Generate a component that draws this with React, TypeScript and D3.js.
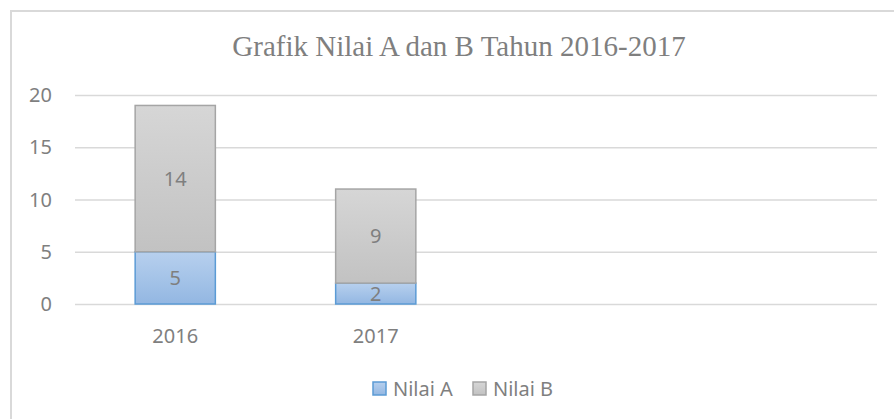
import React, { useEffect, useRef } from 'react';
import * as d3 from 'd3';

const title = 'Grafik Nilai A dan B Tahun 2016-2017';
const categories = ['2016', '2017', '', ''];
const seriesNames = ['Nilai A', 'Nilai B'];
const nilaiA = [5, 2];
const nilaiB = [14, 9];
const yTicks = [0, 5, 10, 15, 20];

const W = 894;
const H = 419;
const FONT = '"Noto Sans", "Open Sans", sans-serif';
const TEXT = '#7f7f7f';

const App: React.FC = () => {
  const svgRef = useRef<SVGSVGElement>(null);

  useEffect(() => {
    if (!svgRef.current) return;
    const svg = d3.select(svgRef.current);
    svg.selectAll('*').remove();

    const plot = { left: 75, right: 877, top: 95, bottom: 304 };

    // chart frame (runs off the right/bottom edge like the screenshot)
    svg.append('rect')
      .attr('x', 11).attr('y', 11)
      .attr('width', W + 20).attr('height', H + 20)
      .attr('fill', '#fff')
      .attr('stroke', '#d9d9d9')
      .attr('stroke-width', 2);

    const defs = svg.append('defs');
    const grads = [
      { id: 'gA', top: '#b7d0ee', bottom: '#93b7e2' },
      { id: 'gB', top: '#d6d6d6', bottom: '#c2c2c2' },
    ];
    grads.forEach(gd => {
      const lg = defs.append('linearGradient')
        .attr('id', gd.id).attr('x1', 0).attr('y1', 0).attr('x2', 0).attr('y2', 1);
      lg.append('stop').attr('offset', '0%').attr('stop-color', gd.top);
      lg.append('stop').attr('offset', '100%').attr('stop-color', gd.bottom);
    });

    const x = d3.scaleBand<number>()
      .domain(d3.range(categories.length))
      .range([plot.left, plot.right])
      .paddingInner(0.6)
      .paddingOuter(0.3);

    const y = d3.scaleLinear().domain([0, 20]).range([plot.bottom, plot.top]);

    // title
    svg.append('text')
      .attr('x', 459).attr('y', 56)
      .attr('text-anchor', 'middle')
      .attr('font-family', '"Liberation Serif", "Times New Roman", serif')
      .attr('font-size', 29)
      .attr('fill', TEXT)
      .text(title);

    // grid
    svg.append('g')
      .attr('transform', `translate(${plot.left},0)`)
      .call(d3.axisLeft(y).tickValues(yTicks).tickSize(-(plot.right - plot.left)).tickFormat(() => ''))
      .call(g => g.select('.domain').remove())
      .call(g => g.selectAll('.tick line').attr('stroke', '#d9d9d9').attr('stroke-width', 1.5));

    // y labels
    svg.append('g')
      .selectAll('text')
      .data(yTicks)
      .join('text')
      .attr('x', 52)
      .attr('y', d => y(d))
      .attr('dy', '0.35em')
      .attr('text-anchor', 'end')
      .attr('font-family', FONT)
      .attr('font-size', 20)
      .attr('fill', TEXT)
      .text(d => d);

    // stacked bars
    const rows = nilaiA.map((a, i) => ({ idx: i, 'Nilai A': a, 'Nilai B': nilaiB[i] }));
    const stacked = d3.stack<any>().keys(seriesNames)(rows);
    const fills = ['url(#gA)', 'url(#gB)'];
    const strokes = ['#5b9bd5', '#a5a5a5'];

    stacked.forEach((layer, si) => {
      const g = svg.append('g');
      g.selectAll('rect')
        .data(layer)
        .join('rect')
        .attr('x', d => x(d.data.idx)!)
        .attr('y', d => y(d[1]))
        .attr('width', x.bandwidth())
        .attr('height', d => y(d[0]) - y(d[1]))
        .attr('fill', fills[si])
        .attr('stroke', strokes[si])
        .attr('stroke-width', 1.5);
      g.selectAll('text')
        .data(layer)
        .join('text')
        .attr('x', d => x(d.data.idx)! + x.bandwidth() / 2)
        .attr('y', d => (y(d[0]) + y(d[1])) / 2)
        .attr('dy', '0.35em')
        .attr('text-anchor', 'middle')
        .attr('font-family', FONT)
        .attr('font-size', 20)
        .attr('fill', TEXT)
        .text(d => d[1] - d[0]);
    });

    // x labels
    svg.append('g')
      .selectAll('text')
      .data(categories)
      .join('text')
      .attr('x', (_, i) => x(i)! + x.bandwidth() / 2)
      .attr('y', 336)
      .attr('dy', '0.35em')
      .attr('text-anchor', 'middle')
      .attr('font-family', FONT)
      .attr('font-size', 20)
      .attr('fill', TEXT)
      .text(d => d);

    // legend
    const legendX = [373, 473];
    seriesNames.forEach((name, i) => {
      const lg = svg.append('g').attr('transform', `translate(${legendX[i]},382)`);
      lg.append('rect')
        .attr('width', 13).attr('height', 13)
        .attr('fill', fills[i])
        .attr('stroke', strokes[i])
        .attr('stroke-width', 1.5);
      lg.append('text')
        .attr('x', 20).attr('y', 6.5)
        .attr('dy', '0.35em')
        .attr('font-family', FONT)
        .attr('font-size', 20)
        .attr('fill', TEXT)
        .text(name);
    });
  }, []);

  return (
    <div style={{ position: 'fixed', left: 0, top: 0, width: W, height: H, background: '#fff' }}>
      <svg ref={svgRef} width={W} height={H} style={{ display: 'block' }}></svg>
    </div>
  );
};

export default App;
